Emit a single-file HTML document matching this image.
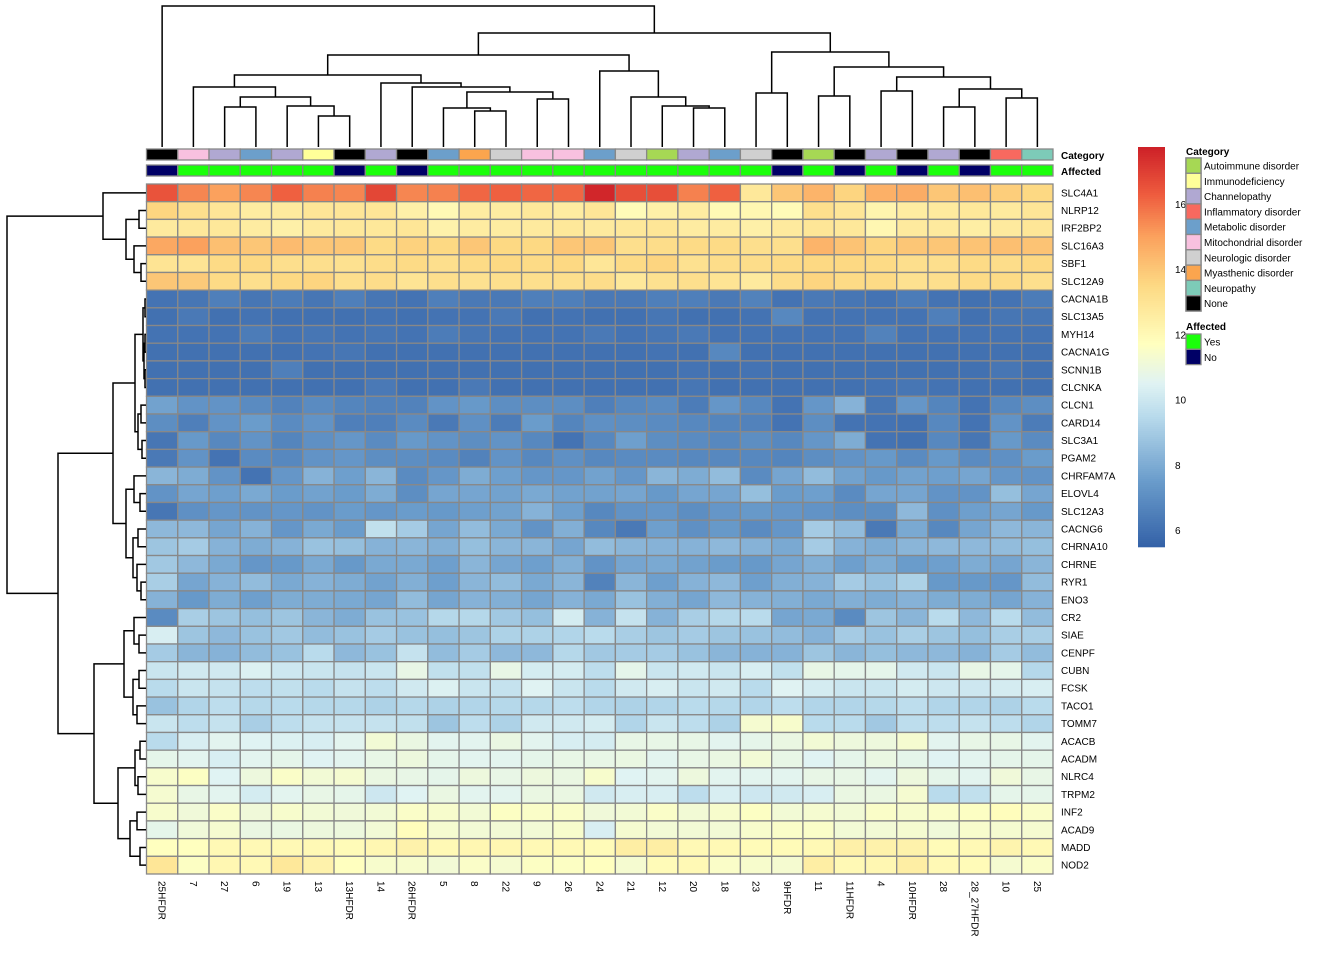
<!DOCTYPE html>
<html><head><meta charset="utf-8">
<style>
body{margin:0;background:#fff;}
svg{display:block;font-family:"Liberation Sans",sans-serif;}
</style></head>
<body>
<svg id="chart" width="1344" height="960" xmlns="http://www.w3.org/2000/svg"></svg>
<script>
const columns=["25HFDR","7","27","6","19","13","13HFDR","14","26HFDR","5","8","22","9","26","24","21","12","20","18","23","9HFDR","11","11HFDR","4","10HFDR","28","28_27HFDR","10","25"];
const genes=["SLC4A1","NLRP12","IRF2BP2","SLC16A3","SBF1","SLC12A9","CACNA1B","SLC13A5","MYH14","CACNA1G","SCNN1B","CLCNKA","CLCN1","CARD14","SLC3A1","PGAM2","CHRFAM7A","ELOVL4","SLC12A3","CACNG6","CHRNA10","CHRNE","RYR1","ENO3","CR2","SIAE","CENPF","CUBN","FCSK","TACO1","TOMM7","ACACB","ACADM","NLRC4","TRPM2","INF2","ACAD9","MADD","NOD2"];
const categoryByColumn=["None","Mitochondrial disorder","Channelopathy","Metabolic disorder","Channelopathy","Immunodeficiency","None","Channelopathy","None","Metabolic disorder","Myasthenic disorder","Neurologic disorder","Mitochondrial disorder","Mitochondrial disorder","Metabolic disorder","Neurologic disorder","Autoimmune disorder","Channelopathy","Metabolic disorder","Neurologic disorder","None","Autoimmune disorder","None","Channelopathy","None","Channelopathy","None","Inflammatory disorder","Neuropathy"];
const affectedByColumn=["No","Yes","Yes","Yes","Yes","Yes","No","Yes","No","Yes","Yes","Yes","Yes","Yes","Yes","Yes","Yes","Yes","Yes","Yes","No","Yes","No","Yes","No","Yes","No","Yes","Yes"];
const colorTicks=[6,8,10,12,14,16];
const v0=[16.5,15.5,15,15.5,16.2,15.6,15.5,16.8,15.5,15.6,16.1,16.2,16.1,16.1,17.6,16.6,16.6,15.6,16.2,12.8,14,14.5,13.6,14.6,14.7,14,14.2,13.8,13.5];
const v1=[13.6,13.2,12.9,12.6,12.7,12.9,12.9,12.9,12.4,12.0,12.6,12.6,12.8,12.6,12.9,11.9,12.4,12.6,12.0,12.1,11.9,13.2,12.9,12.2,12.6,12.7,12.8,12.7,12.9];
const v2=[12.7,12.8,12.8,12.6,12.4,12.7,12.8,12.8,12.9,12.3,12.6,12.6,12.7,12.8,12.7,12.8,12.9,12.6,12.6,12.4,12.7,12.9,12.8,12.1,12.7,12.7,12.5,12.7,12.9];
const v3=[14.8,15.0,14.2,14.0,14.3,14.0,14.0,13.4,13.7,13.5,14.0,13.5,13.5,14.0,14.0,13.2,13.3,13.4,13.4,13.2,13.2,14.5,14.1,13.6,14.0,14.0,14.1,14.2,14.1];
const v4=[13.0,13.0,13.4,13.5,13.2,13.2,13.1,13.3,13.4,13.2,13.4,13.5,13.4,13.5,12.9,13.4,13.6,13.1,13.3,13.3,13.4,13.5,13.5,13.4,13.2,13.2,13.4,13.3,13.5];
const v5=[14.0,13.9,13.4,13.2,13.5,13.6,13.2,13.3,13.0,13.2,13.1,13.2,13.2,13.2,13.3,12.8,13.1,13.2,13.0,12.7,13.3,13.6,13.4,13.4,13.1,13.2,13.4,13.4,13.2];
const v6=[6.1,6.2,6.5,6.2,6.4,6.2,6.5,6.2,6.1,6.5,6.3,6.3,6.5,6.5,6.3,6.3,6.5,6.5,6.3,6.6,6.1,6.3,6.2,6.1,6.4,6.1,6.0,6.1,6.4];
const v7=[6.0,6.3,6.0,6.1,6.0,6.0,6.0,6.1,6.0,6.1,6.1,6.3,6.0,6.1,6.0,6.0,6.2,6.0,6.0,6.1,6.8,6.1,6.1,6.1,6.1,6.5,6.0,6.2,6.2];
const v8=[6.1,6.1,6.1,6.4,6.1,6.2,6.1,6.2,6.1,6.4,6.2,6.1,6.1,6.1,6.3,6.1,6.2,6.3,6.1,6.1,6.1,6.1,6.1,6.6,6.1,6.1,6.1,6.1,6.1];
const v9=[6.0,6.0,6.0,6.0,6.0,6.1,6.2,6.0,6.0,6.0,6.0,6.0,6.0,6.0,6.0,6.0,6.1,6.0,6.8,6.0,6.0,6.0,6.0,6.0,6.0,6.0,6.0,6.0,6.0];
const v10=[6.0,6.0,6.0,6.0,6.5,6.0,6.0,6.0,6.0,6.0,6.0,6.0,6.0,6.0,6.0,6.0,6.0,6.1,6.0,6.1,6.0,6.0,6.0,6.0,6.0,6.0,6.0,6.2,6.0];
const v11=[6.0,6.0,6.0,6.0,6.0,6.0,6.0,6.3,6.0,6.0,6.3,6.0,6.0,6.0,6.0,6.0,6.0,6.2,6.0,6.0,6.0,6.0,6.0,6.1,6.2,6.1,6.0,6.0,6.0];
const v12=[7.7,7.2,7.2,6.9,6.6,6.9,6.7,6.6,6.6,7.2,7.4,7.0,7.0,7.0,6.5,6.8,6.9,6.4,7.3,6.8,6.1,7.3,8.2,6.2,7.3,6.7,6.1,6.8,7.0];
const v13=[7.0,6.5,7.2,7.5,6.9,7.2,6.5,6.5,6.9,6.3,7.1,6.4,7.5,6.7,7.1,7.0,6.9,6.8,6.7,6.6,6.1,7.0,6.1,6.1,6.0,6.8,6.1,7.2,6.4];
const v14=[6.2,7.4,6.8,7.2,6.7,7.1,7.3,6.9,7.4,7.2,7.0,7.2,6.8,6.1,6.8,7.6,7.0,6.9,6.8,7.0,6.8,7.3,8.0,6.1,6.0,6.8,6.2,7.4,6.9];
const v15=[6.3,7.2,6.1,6.9,6.8,7.2,7.3,7.0,7.0,6.9,6.6,7.2,6.8,7.1,6.8,6.9,6.9,6.8,6.8,6.8,6.7,7.0,7.2,7.4,6.9,7.4,6.9,7.1,7.5];
const v16=[8.3,8.0,7.2,6.1,7.3,8.2,7.6,8.3,6.9,7.3,8.0,7.6,7.3,7.3,7.7,7.3,8.3,8.0,8.5,6.9,7.8,8.5,7.7,7.4,7.7,7.6,7.8,7.3,7.2];
const v17=[7.2,7.8,7.6,7.9,7.5,7.7,7.5,8.0,7.0,7.8,7.8,7.7,7.9,7.7,7.7,7.8,7.4,7.8,7.8,8.6,7.5,7.6,6.9,7.8,7.8,7.2,7.2,8.6,7.8];
const v18=[6.2,7.1,7.3,7.2,7.3,7.2,7.5,7.3,7.5,7.4,7.6,7.7,8.2,7.6,6.8,7.2,7.3,7.0,7.3,7.4,7.3,7.2,7.0,7.0,8.4,7.1,7.6,7.8,7.4];
const v19=[8.4,8.4,7.8,8.2,7.3,7.9,7.5,9.7,9.0,7.8,8.5,7.9,7.2,8.1,6.8,6.3,7.6,7.1,7.4,6.9,7.3,9.0,8.5,6.3,7.9,6.8,7.8,8.4,8.3];
const v20=[8.8,9.0,8.2,8.0,8.2,8.7,8.6,8.2,8.3,8.1,8.6,8.3,8.3,7.8,8.5,8.3,8.2,8.2,8.4,8.2,7.9,9.0,8.2,8.0,8.3,8.4,8.4,8.5,8.6];
const v21=[8.9,8.4,7.9,7.3,7.4,7.9,7.4,7.9,7.9,7.6,8.3,7.8,7.6,8.1,7.2,7.8,7.9,7.7,7.5,7.4,7.8,8.1,7.6,8.0,7.5,7.6,8.0,7.8,8.3];
const v22=[9.1,7.8,8.2,8.5,7.9,8.2,8.0,7.7,8.1,7.6,8.3,8.5,7.9,8.3,6.6,8.3,7.6,8.2,8.4,7.6,8.1,8.2,9.0,8.7,9.2,7.4,7.4,7.3,8.5];
const v23=[8.2,7.4,8.0,7.6,8.0,8.0,7.9,7.8,8.5,7.8,8.2,8.1,7.8,8.2,7.9,8.7,8.1,7.8,8.4,8.2,8.1,7.9,8.1,8.0,8.2,8.0,8.0,7.8,8.2];
const v24=[6.9,9.1,8.8,8.6,8.8,8.3,8.0,8.7,8.7,9.4,9.4,8.9,8.6,10.2,8.2,9.8,8.2,9.1,9.4,9.5,7.8,7.9,6.9,8.8,8.3,9.5,8.4,9.5,8.5];
const v25=[10.3,8.8,8.4,8.7,8.9,8.5,8.7,9.0,8.7,8.6,8.8,9.2,9.2,9.3,9.5,9.1,8.8,9.0,8.8,8.7,8.5,8.2,9.0,8.7,9.1,8.8,8.6,9.1,9.1];
const v26=[9.0,8.3,8.2,8.5,8.7,9.5,8.4,8.7,9.8,8.5,9.0,8.4,8.4,9.4,8.9,9.0,9.0,8.7,8.3,8.2,8.2,8.8,8.3,8.6,8.4,8.4,8.2,9.0,8.5];
const v27=[9.9,10.1,10.1,10.4,10.0,9.9,9.8,9.9,10.8,9.7,9.7,10.8,10.2,10.2,9.6,10.7,9.9,10.1,9.9,10.3,9.7,10.8,10.7,10.7,10.1,9.9,10.8,10.7,9.4];
const v28=[9.5,9.9,9.8,9.6,9.7,9.5,9.8,9.6,10.1,10.4,9.9,9.8,10.5,9.9,9.5,10.1,10.3,9.9,10.1,9.5,10.5,10.2,9.9,9.9,10.2,10.0,10.0,10.2,10.3];
const v29=[8.7,9.3,9.6,9.4,9.5,9.4,9.4,9.2,9.4,9.2,9.3,9.4,9.4,9.6,9.3,9.2,9.3,9.5,9.4,9.3,9.6,9.3,9.3,9.4,9.6,9.3,9.3,9.2,9.5];
const v30=[9.9,9.6,9.8,9.1,9.6,9.8,9.8,9.8,9.7,8.8,9.6,9.2,10.1,10.1,10.2,9.3,9.9,9.6,9.2,11.3,11.4,9.5,9.5,8.9,9.6,9.6,9.8,9.6,9.3];
const v31=[9.5,10.3,10.6,10.5,10.4,10.3,10.6,11.2,10.9,10.6,10.6,10.9,10.6,10.3,10.2,10.8,10.8,10.8,10.6,10.7,10.9,11.2,11.0,11.0,11.3,10.6,10.8,10.8,10.6];
const v32=[10.7,10.6,10.3,10.6,10.7,10.5,10.6,10.8,11.0,10.7,10.6,10.6,10.7,10.8,10.8,10.9,10.6,10.8,10.9,11.2,10.8,10.5,10.7,10.9,10.7,10.5,10.6,10.7,10.7];
const v33=[11.4,11.6,10.5,11.0,11.5,11.2,11.3,10.9,10.8,10.7,11.0,10.8,11.0,10.9,11.4,10.5,10.6,11.0,10.6,10.6,10.6,10.8,10.8,10.6,11.0,10.7,10.6,11.1,10.8];
const v34=[11.3,10.8,10.6,10.2,10.6,10.8,10.7,10.0,10.5,10.9,10.6,10.6,10.9,10.9,10.1,10.3,10.3,9.6,10.3,10.0,10.1,10.3,10.9,10.9,11.3,9.5,9.7,10.7,10.7];
const v35=[11.4,11.1,11.5,11.1,11.4,11.2,11.1,11.2,11.5,11.4,11.2,11.6,11.5,11.5,11.1,11.2,11.5,11.2,11.4,11.6,11.2,11.3,11.2,11.5,11.4,11.5,11.6,11.8,11.5];
const v36=[10.7,11.1,11.3,10.9,10.9,11.0,11.0,11.2,11.8,11.3,11.2,11.2,11.2,11.4,10.3,11.3,11.2,11.2,11.2,11.4,11.5,11.5,11.2,11.2,11.3,11.1,11.4,11.3,11.3];
const v37=[11.7,11.7,12.0,12.0,12.0,12.0,11.9,12.1,12.3,12.0,12.1,12.1,12.0,12.0,11.9,12.5,12.5,12.0,12.0,11.9,11.9,12.0,12.4,12.3,12.3,11.9,12.0,12.2,12.0];
const v38=[12.9,11.6,12.1,12.0,12.8,12.3,11.7,11.4,11.4,11.2,11.5,11.3,11.6,11.6,11.7,11.3,11.9,12.0,11.5,11.4,11.3,12.5,12.0,12.1,12.5,12.0,11.9,11.3,11.5];
const values=[v0,v1,v2,v3,v4,v5,v6,v7,v8,v9,v10,v11,v12,v13,v14,v15,v16,v17,v18,v19,v20,v21,v22,v23,v24,v25,v26,v27,v28,v29,v30,v31,v32,v33,v34,v35,v36,v37,v38];
const colTree=[6,0,[33,[55,[75,[87,1,[97,[107,2,3],[106,4,[116,5,6]]]],[83,7,[87,8,[92,[108,9,[111,10,11]],[99,12,13]]]]],[71,14,[97,15,[106,16,[108,17,18]]]]],[52,[93,19,20],[67,[96,21,22],[77,[91,23,24],[89,[107,25,26],[98,27,28]]]]]]];
const rowTree=[7,[103,0,[126,[139,1,2],[134,3,[141,4,5]]]],[58,[113,[135,[143,[145,6,7],[144,[145,8,9],[145,10,11]]],[138,[141,12,13],[142,14,15]]],[126,[134,16,[140,17,18]],[133,[138,19,20],[137,21,[141,22,23]]]]],[94,[124,[134,24,[139,25,26]],[133,[139,27,28],[137,29,30]]],[118,[135,[140,31,32],[138,33,34]],[130,[137,35,36],[140,37,38]]]]]];

const catColors={"Autoimmune disorder":"#a6d854","Immunodeficiency":"#ffff99","Channelopathy":"#b0a8d2","Inflammatory disorder":"#f8695f","Metabolic disorder":"#6c9fcb","Mitochondrial disorder":"#f8c1df","Neurologic disorder":"#d0d0d0","Myasthenic disorder":"#fba54e","Neuropathy":"#7dcbb8","None":"#000000"};
const affColors={"Yes":"#1aff0a","No":"#000066"};
const stops=[[5.5,[52,98,168]],[7.5,[106,156,203]],[9.5,[185,219,236]],[10.5,[224,243,243]],[11.7,[255,255,191]],[13.5,[253,217,131]],[15.0,[251,161,93]],[16.3,[238,91,62]],[17.8,[204,30,39]]];
function color(v){
  if(v<=stops[0][0])return rgb(stops[0][1]);
  for(let i=1;i<stops.length;i++){if(v<=stops[i][0]){const a=stops[i-1],b=stops[i],t=(v-a[0])/(b[0]-a[0]);return rgb(a[1].map((c,k)=>c+(b[1][k]-c)*t));}}
  return rgb(stops[stops.length-1][1]);
}
function rgb(a){return "rgb("+a.map(x=>Math.round(x)).join(",")+")";}

const NS="http://www.w3.org/2000/svg";
const svg=document.getElementById("chart");
function mk(tag,attrs,parent){const e=document.createElementNS(NS,tag);for(const k in attrs)e.setAttribute(k,attrs[k]);(parent||svg).appendChild(e);return e;}

const X0=146.5,X1=1053,Y0=184,Y1=874;
const cw=(X1-X0)/columns.length, rh=(Y1-Y0)/genes.length;
const xc=i=>X0+cw*(i+0.5), yr=j=>Y0+rh*(j+0.5);
const valueScaleY=v=>530-(v-6)*32.6;

// heatmap cells
const gCells=mk("g",{});


values.forEach((row,j)=>row.forEach((v,i)=>{
  const r=mk("rect",{x:X0+cw*i,y:Y0+rh*j,width:cw,height:rh,fill:color(v),stroke:"#888",'stroke-width':1.3},gCells);
  
  
}));
// annotation bars
const gAnn=mk("g",{});


columns.forEach((c,i)=>{
  const a=mk("rect",{x:X0+cw*i,y:149,width:cw,height:11,fill:catColors[categoryByColumn[i]],stroke:"#888",'stroke-width':1.3},gAnn);
  
  
  const b=mk("rect",{x:X0+cw*i,y:165,width:cw,height:11,fill:affColors[affectedByColumn[i]],stroke:"#888",'stroke-width':1.3},gAnn);
  
  
});
const t1=mk("text",{x:1061,y:159,'font-size':10,'font-weight':'bold'});t1.textContent="Category";


const t2=mk("text",{x:1061,y:175,'font-size':10,'font-weight':'bold'});t2.textContent="Affected";



// row labels
genes.forEach((g,j)=>{
  const t=mk("text",{x:1061,y:yr(j)+3.5,'font-size':10,fill:"#000"});t.textContent=g;
  
  
});
// column labels
columns.forEach((c,i)=>{
  const x=xc(i)-3.5,y=881;
  const t=mk("text",{x:x,y:y,'font-size':10,transform:`rotate(90 ${x} ${y})`});t.textContent=c;
  
  
});

// dendrograms
const gCD=mk("g",{stroke:"#000",'stroke-width':1.5,fill:"none"});


function drawCol(n){
  if(typeof n==="number")return [xc(n),147];
  const a=drawCol(n[1]),b=drawCol(n[2]),h=n[0];
  mk("path",{d:`M${a[0]},${a[1]}V${h}H${b[0]}V${b[1]}`},gCD);
  return [(a[0]+b[0])/2,h];
}
drawCol(colTree);
const gRD=mk("g",{stroke:"#000",'stroke-width':1.5,fill:"none"});


function drawRow(n){
  if(typeof n==="number")return [146,yr(n)];
  const a=drawRow(n[1]),b=drawRow(n[2]),h=n[0];
  mk("path",{d:`M${a[0]},${a[1]}H${h}V${b[1]}H${b[0]}`},gRD);
  return [h,(a[1]+b[1])/2];
}
drawRow(rowTree);

// color bar
const gCB=mk("g",{});


for(let y=147;y<547;y+=2){
  const v=6+(530-(y+1))/32.6;
  mk("rect",{x:1138,y:y,width:27,height:2.3,fill:color(v)},gCB);
}
colorTicks.forEach(v=>{
  const t=mk("text",{x:1175,y:valueScaleY(v)+4,'font-size':10},gCB);t.textContent=v;
  
  
});

// legends
const cats=["Autoimmune disorder","Immunodeficiency","Channelopathy","Inflammatory disorder","Metabolic disorder","Mitochondrial disorder","Neurologic disorder","Myasthenic disorder","Neuropathy","None"];
const gL=mk("g",{});


const lt=mk("text",{x:1186,y:155,'font-size':10,'font-weight':'bold'},gL);lt.textContent="Category";
mk("rect",{x:1186,y:158,width:15,height:153,fill:"none",stroke:"#888",'stroke-width':1.5},gL);
cats.forEach((c,k)=>{
  const y=158+k*15.3;
  const r=mk("rect",{x:1186,y:y,width:15,height:15.3,fill:catColors[c],stroke:"#888",'stroke-width':1.3},gL);
  
  
  const t=mk("text",{x:1204,y:y+11.5,'font-size':10},gL);t.textContent=c;
  
  
});
const gA=mk("g",{});


const at=mk("text",{x:1186,y:330,'font-size':10,'font-weight':'bold'},gA);at.textContent="Affected";
["Yes","No"].forEach((c,k)=>{
  const y=334+k*15.3;
  const r=mk("rect",{x:1186,y:y,width:15,height:15.3,fill:affColors[c],stroke:"#888",'stroke-width':1.3},gA);
  
  
  const t=mk("text",{x:1204,y:y+11.5,'font-size':10},gA);t.textContent=c;
  
  
});
</script>
</body></html>
